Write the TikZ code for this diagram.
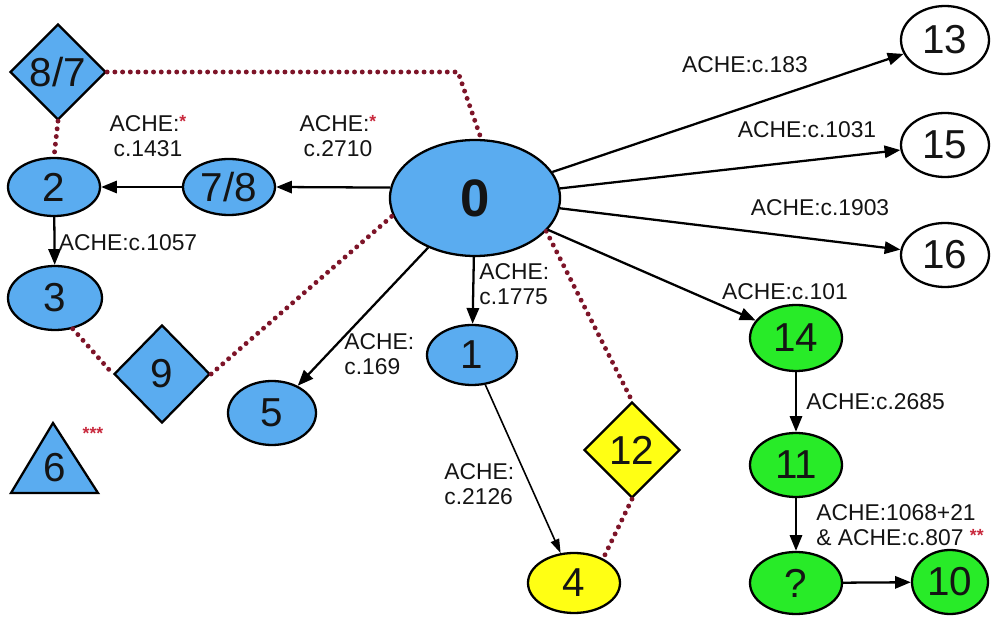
\documentclass[tikz,border=0pt]{standalone}
\usepackage{fontspec}
\setmainfont{Liberation Sans}
\usetikzlibrary{shapes.geometric,arrows.meta}
\definecolor{nodeblue}{RGB}{90,172,240}
\definecolor{nodegreen}{RGB}{40,235,40}
\definecolor{nodeyellow}{RGB}{255,255,20}
\definecolor{dotred}{RGB}{125,20,40}
\definecolor{starred}{RGB}{200,40,60}
\definecolor{txt}{RGB}{20,20,20}
\newcommand{\rst}[1]{\textcolor{starred}{\raisebox{0.3ex}{\fontsize{10}{10}\selectfont\bfseries #1}}}
\tikzset{
  ell/.style 2 args={ellipse, draw=black, line width=1.3pt, inner sep=0pt,
    minimum width=#1*0.02cm, minimum height=#2*0.02cm,
    font=\fontsize{23}{26}\selectfont, text=txt},
  dia/.style 2 args={diamond, draw=black, line width=1.3pt, inner sep=0pt,
    minimum width=#1*0.02cm, minimum height=#2*0.02cm,
    font=\fontsize{23}{26}\selectfont, text=txt},
  blue/.style={fill=nodeblue},
  green/.style={fill=nodegreen},
  yellow/.style={fill=nodeyellow},
  white/.style={fill=white},
  arr/.style={-{Triangle[length=9pt,width=7pt]}, line width=1.3pt, black},
  thinarr/.style={-{Triangle[length=8pt,width=5pt]}, line width=0.9pt, black},
  dotline/.style={dotred, line width=2.8pt, line cap=round, dash pattern=on 0pt off 4.4pt},
  lab/.style={font=\fontsize{13}{14.5}\selectfont, text=txt, inner sep=0pt},
}
\begin{document}
\begin{tikzpicture}[x=0.02cm, y=-0.02cm]
\useasboundingbox (0,0) rectangle (992,618);
% nodes
\node[ell={170}{116}, blue, font=\fontsize{30}{32}\selectfont\bfseries] (n0) at (475,198) {0};
\node[ell={92}{56}, blue] (n78) at (229,187) {7/8};
\node[ell={92}{58}, blue] (n2) at (54,187) {2};
\node[dia={96}{96}, blue] (n87) at (58,72) {8/7};
\node[ell={94}{64}, blue] (n3) at (55,298) {3};
\node[dia={96}{98}, blue] (n9) at (162,374) {9};
\node[ell={88}{64}, blue] (n5) at (272,413) {5};
\draw[line width=1.3pt, fill=nodeblue] (53,423) -- (98,493) -- (11,493) -- cycle;
\node[font=\fontsize{23}{26}\selectfont, text=txt] (n6) at (55,468) {6};
\node[text=starred, font=\fontsize{10}{10}\selectfont\bfseries, inner sep=0pt] (n6s) at (93,433) {***};
\node[ell={90}{60}, blue] (n1) at (472,355) {1};
\node[ell={92}{60}, yellow] (n4) at (574,583) {4};
\node[dia={96}{96}, yellow] (n12) at (632,450) {12};
\node[ell={92}{66}, green] (n14) at (796,338) {14};
\node[ell={92}{64}, green] (n11) at (796,465) {11};
\node[ell={92}{62}, green] (nq) at (796,583) {?};
\node[ell={76}{64}, green] (n10) at (950,582) {10};
\node[ell={88}{68}, white] (n13) at (945,40) {13};
\node[ell={88}{64}, white] (n15) at (945,145) {15};
\node[ell={88}{64}, white] (n16) at (945,255) {16};
% dotted connectors
\coordinate (c1) at (458,72);
\draw[dotline] (n87.east) -- (c1) -- (n0.84);
\draw[dotline] (n87.south) -- (n2.north);
\draw[dotline] (n3.-60) -- (n9.west);
\draw[dotline] (n9.east) -- (n0.192);
\draw[dotline] (n0.-25) -- (n12.north);
\draw[dotline] (n12.south) -- (n4.40);
% arrows
\draw[arr] (n0.173) -- (n78.east);
\draw[arr] (n78) -- (n2);
\draw[arr] (n2) -- (n3);
\draw[arr] (n0) -- (n13);
\draw[arr] (n0) -- (n15);
\draw[arr] (n0) -- (n16);
\draw[arr] (n0) -- (n14);
\draw[arr] (n0) -- (n1);
\draw[arr] (n0) -- (n5);
\draw[thinarr] (n1) -- (n4);
\draw[arr] (n14) -- (n11);
\draw[arr] (n11) -- (nq);
\draw[arr] (nq) -- (n10);
% labels
\node[lab, align=center] (l1431) at (148,136) {ACHE:\rst{*}\\c.1431};
\node[lab, align=center] (l2710) at (338,136) {ACHE:\rst{*}\\c.2710};
\node[lab] (l1057) at (128,243) {ACHE:c.1057};
\node[lab, align=left, anchor=west] (l1775) at (479,284) {ACHE:\\c.1775};
\node[lab, align=left, anchor=west] (l169) at (344,354) {ACHE:\\c.169};
\node[lab, align=left, anchor=west] (l2126) at (444,484) {ACHE:\\c.2126};
\node[lab] (l183) at (745,65) {ACHE:c.183};
\node[lab] (l1031) at (807,130) {ACHE:c.1031};
\node[lab] (l1903) at (820,208) {ACHE:c.1903};
\node[lab] (l101) at (785,292) {ACHE:c.101};
\node[lab, anchor=west] (l2685) at (806,402) {ACHE:c.2685};
\node[lab, align=left, anchor=west] (l807) at (816,525) {ACHE:1068+21\\\& ACHE:c.807 \rst{**}};
\end{tikzpicture}
\end{document}
